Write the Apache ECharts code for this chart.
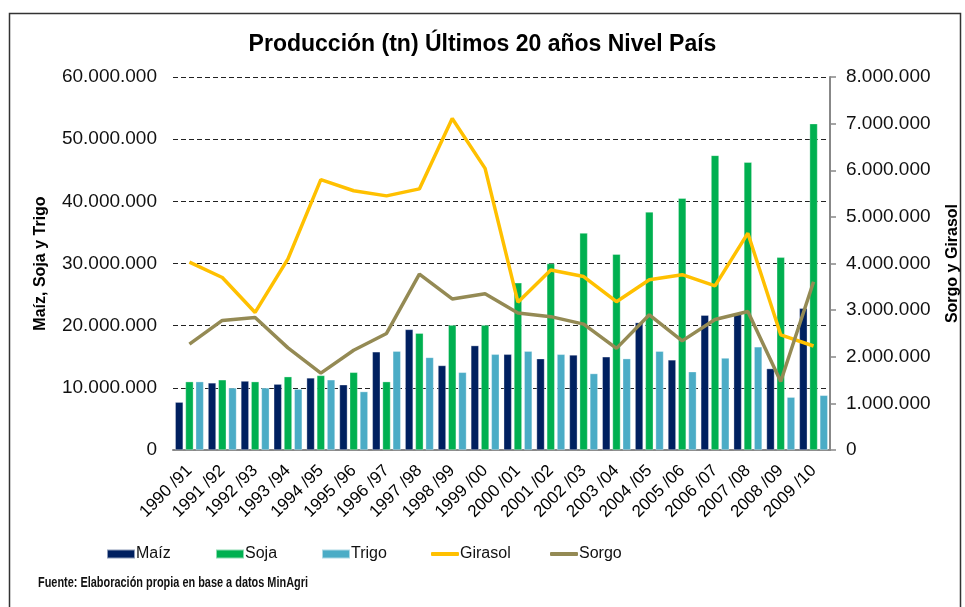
<!DOCTYPE html>
<html>
<head>
<meta charset="utf-8">
<script src="https://cdn.jsdelivr.net/npm/echarts@6/dist/echarts.min.js"></script>
<style>
  html, body { margin: 0; padding: 0; background: #fff; }
  #chart { width: 965px; height: 607px; }
</style>
</head>
<body>
<div id="chart"></div>
<script>
// campañas
const campanias = ['1990 /91', '1991 /92', '1992 /93', '1993 /94', '1994 /95', '1995 /96', '1996 /97',
    '1997 /98', '1998 /99', '1999 /00', '2000 /01', '2001 /02', '2002 /03', '2003 /04', '2004 /05',
    '2005 /06', '2006 /07', '2007 /08', '2008 /09', '2009 /10']

// eje izquierdo (tn)
const maiz = [7700000, 10800000, 11100000, 10600000, 11600000, 10500000, 15800000, 19400000, 13600000,
    16800000, 15400000, 14700000, 15300000, 15000000, 20500000, 14500000, 21700000, 22000000, 13100000, 22800000]
const soja = [11000000, 11300000, 11000000, 11800000, 12000000, 12500000, 11000000, 18800000, 20100000,
    20100000, 26900000, 30000000, 34900000, 31500000, 38300000, 40500000, 47400000, 46300000, 31000000, 52500000]
const trigo = [11000000, 10000000, 10000000, 9800000, 11300000, 9400000, 15900000, 14900000, 12500000,
    15400000, 15900000, 15400000, 12300000, 14700000, 15900000, 12600000, 14800000, 16600000, 8500000, 8800000]

// eje derecho (tn)
const girasol = [4030000, 3700000, 2950000, 4100000, 5800000, 5560000, 5450000, 5600000, 7110000,
    6040000, 3170000, 3860000, 3720000, 3180000, 3650000, 3760000, 3520000, 4650000, 2470000, 2230000]
const sorgo = [2270000, 2780000, 2840000, 2190000, 1650000, 2140000, 2500000, 3770000, 3240000,
    3350000, 2940000, 2860000, 2700000, 2180000, 2900000, 2340000, 2800000, 2970000, 1470000, 3610000]

const colores = { maiz: '#002060', soja: '#00B050', trigo: '#4BACC6', girasol: '#FFC000', sorgo: '#948A54' }

// 10000000 -> 10.000.000
const miles = v => String(v).replace(/\B(?=(\d{3})+(?!\d))/g, '.')

const fuente = 'Liberation Sans, Arial'
const chart = echarts.init(document.getElementById('chart'))

const barra = (name, data, color) => ({
    name, type: 'bar', data, yAxisIndex: 0,
    barWidth: 8, barGap: '28%',
    itemStyle: { color, borderColor: 'rgba(255,255,255,0.55)', borderWidth: 0.6 }
})
const linea = (name, data, color) => ({
    name, type: 'line', data, yAxisIndex: 1,
    symbol: 'none', lineStyle: { color, width: 3.5 }, itemStyle: { color }
})
const leyenda = (name, left, icon) => ({
    data: [name], left, top: 541, icon,
    itemWidth: 28, itemHeight: icon === 'rect' ? 9 : 4, itemGap: 0,
    textStyle: { fontFamily: fuente, fontSize: 16, color: '#111', padding: [0, 0, 0, -4] }
})

chart.setOption({
    animation: false,
    title: {
        text: 'Producción (tn) Últimos 20 años Nivel País',
        left: 'center', top: 28,
        textStyle: { fontFamily: fuente, fontSize: 23, fontWeight: 'bold', color: '#000' }
    },
    legend: [
        leyenda('Maíz', 101, 'rect'),
        leyenda('Soja', 210, 'rect'),
        leyenda('Trigo', 316, 'rect'),
        leyenda('Girasol', 426, 'roundRect'),
        leyenda('Sorgo', 545, 'roundRect')
    ],
    grid: { left: 173, right: 135, top: 77, bottom: 157, outerBoundsMode: 'none' },
    xAxis: {
        type: 'category', data: campanias,
        axisLine: { lineStyle: { color: '#888', width: 2 } },
        axisTick: { show: false },
        axisLabel: { rotate: 45, interval: 0, margin: 18, fontFamily: fuente, fontSize: 17, color: '#000' }
    },
    yAxis: [
        {
            type: 'value', min: 0, max: 60000000, interval: 10000000,
            name: 'Maíz, Soja y Trigo', nameLocation: 'middle', nameGap: 124, nameRotate: 90,
            nameTextStyle: { fontFamily: fuente, fontSize: 16, fontWeight: 'bold', color: '#000' },
            axisLine: { show: false }, axisTick: { show: false },
            axisLabel: { formatter: miles, margin: 16, fontFamily: fuente, fontSize: 19, color: '#111' },
            splitLine: { lineStyle: { color: '#222', type: [5, 3], width: 1.2 } }
        },
        {
            type: 'value', min: 0, max: 8000000, interval: 1000000,
            name: 'Sorgo y Girasol', nameLocation: 'middle', nameGap: 115, nameRotate: 90,
            nameTextStyle: { fontFamily: fuente, fontSize: 16, fontWeight: 'bold', color: '#000' },
            axisLine: { show: true, lineStyle: { color: '#888', width: 2 } },
            axisTick: { show: true, length: 6, lineStyle: { color: '#888', width: 1.5 } },
            axisLabel: { formatter: miles, margin: 16, fontFamily: fuente, fontSize: 19, color: '#111' },
            splitLine: { show: false }
        }
    ],
    series: [
        barra('Maíz', maiz, colores.maiz),
        barra('Soja', soja, colores.soja),
        barra('Trigo', trigo, colores.trigo),
        linea('Girasol', girasol, colores.girasol),
        linea('Sorgo', sorgo, colores.sorgo)
    ],
    graphic: [
        {
            type: 'rect', left: 7, top: 11, silent: true,
            shape: { width: 951, height: 620 },
            style: { fill: 'none', stroke: '#333', lineWidth: 1.5 }
        },
        {
            type: 'text', x: 38, y: 576, scaleX: 0.78,
            style: {
                text: 'Fuente: Elaboración propia en base a datos MinAgri',
                font: 'bold 14px "Liberation Sans", Arial', fill: '#111'
            }
        }
    ]
})
</script>
</body>
</html>
